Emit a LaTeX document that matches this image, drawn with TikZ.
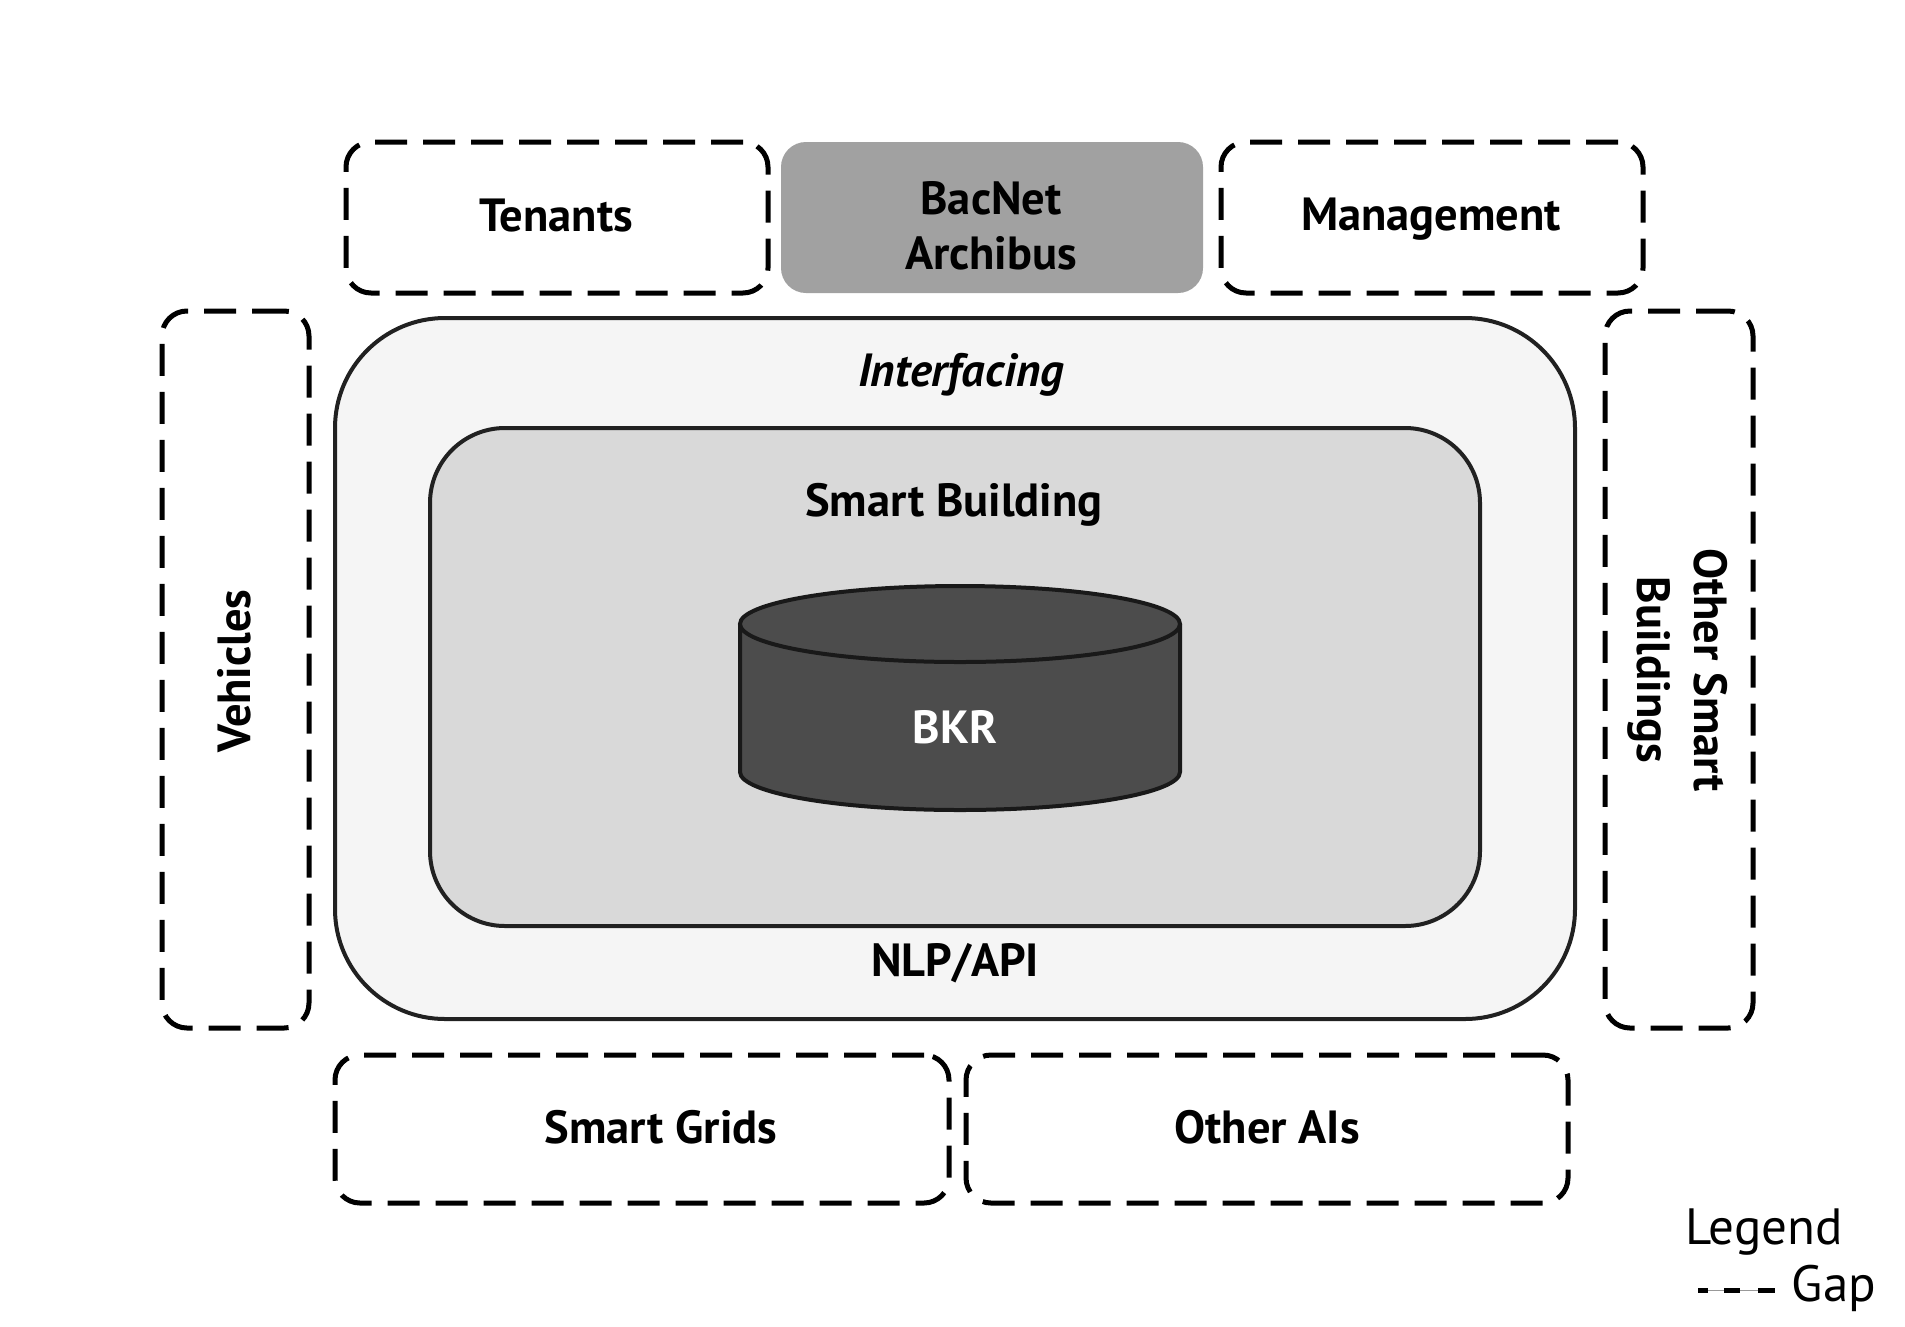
\documentclass[tikz,border=0pt]{standalone}
\usepackage{fontspec}
\setmainfont{PT Sans}
\begin{document}
\begin{tikzpicture}[x=1pt,y=-1pt,
  gapbox/.style={draw=black, line width=5pt, dash pattern=on 32pt off 16pt, rounded corners=25pt, inner sep=0pt, outer sep=0pt},
  solidbox/.style={draw=black!87, line width=4pt, inner sep=0pt, outer sep=0pt},
  lbl/.style={font=\fontsize{46.5}{56}\selectfont\bfseries, inner sep=0pt, align=center},
  leg/.style={font=\fontsize{51}{60}\selectfont, inner sep=0pt}]
\useasboundingbox (0,0) rectangle (1905,1326);
\fill[white] (0,0) rectangle (1905,1326);
% top row
\node[gapbox, minimum width=422pt, minimum height=151pt] (tenants) at (557,217.5) {};
\node[lbl] (tenlbl) at (556,216) {Tenants};
\node[fill=black!37, rounded corners=25pt, inner sep=0pt, minimum width=422pt, minimum height=151pt] (bacnet) at (992,217.5) {};
\node[lbl, font=\fontsize{46.5}{55}\selectfont\bfseries] (baclbl) at (991,226) {BacNet\\Archibus};
\node[gapbox, minimum width=422pt, minimum height=151pt] (mgmt) at (1432,217.5) {};
\node[lbl] (mgmtlbl) at (1431,219) {Management};
% sides
\node[gapbox, minimum width=147pt, minimum height=717pt] (vehicles) at (235.5,669.5) {};
\node[lbl, rotate=90] (vehlbl) at (234,671) {Vehicles};
\node[gapbox, minimum width=148pt, minimum height=717pt] (osb) at (1679,669.5) {};
\node[lbl, rotate=-90, font=\fontsize{46.5}{57}\selectfont\bfseries] (osblbl) at (1678,670) {Other Smart\\Buildings};
% center
\node[solidbox, fill=black!4, rounded corners=110pt, minimum width=1240pt, minimum height=701pt] (interf) at (955,668.5) {};
\node[lbl, font=\fontsize{46.5}{56}\selectfont\bfseries\itshape] (interflbl) at (961,375) {Interfacing};
\node[lbl] (nlp) at (955,963) {NLP/API};
\node[solidbox, fill=black!15, rounded corners=75pt, minimum width=1050pt, minimum height=498pt] (sb) at (955,677) {};
\node[lbl] (sblbl) at (954,505) {Smart Building};
% cylinder BKR
\fill[black!70] (740,624) -- (740,772) arc[start angle=180, end angle=0, x radius=220, y radius=38] -- (1180,624) -- cycle;
\draw[black!90, line width=4pt] (740,624) -- (740,772) arc[start angle=180, end angle=0, x radius=220, y radius=38] -- (1180,624);
\draw[black!90, fill=black!70, line width=4pt] (960,624) ellipse[x radius=220, y radius=38];
\node[lbl, text=white] (bkr) at (955,727) {BKR};
% bottom row
\node[gapbox, minimum width=614pt, minimum height=148pt] (grids) at (642,1129) {};
\node[lbl] (gridslbl) at (661,1127) {Smart Grids};
\node[gapbox, minimum width=602pt, minimum height=148pt] (ais) at (1267,1129) {};
\node[lbl] (aislbl) at (1267,1127) {Other AIs};
% legend
\node[leg] (legend) at (1764,1232) {Legend};
\coordinate (lgA) at (1698,1290);
\coordinate (lgB) at (1775,1290);
\draw[black!40, line width=1pt] (lgA) -- (lgB);
\draw[black, line width=5pt, dash pattern=on 10pt off 16pt on 16pt off 18pt on 17pt off 40pt] (lgA) -- (lgB);
\node[leg] (gap) at (1834,1288) {Gap};
\end{tikzpicture}
\end{document}
